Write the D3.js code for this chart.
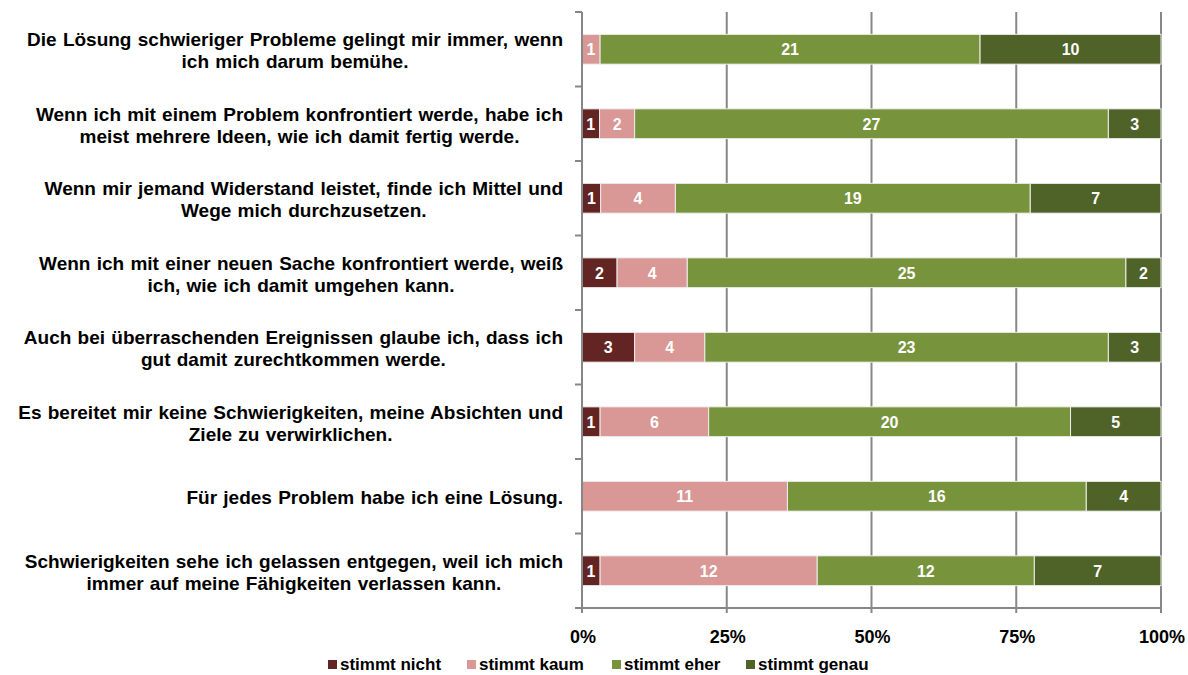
<!DOCTYPE html>
<html>
<head>
<meta charset="utf-8">
<script src="https://cdn.jsdelivr.net/npm/d3@7"></script>
<style>
  body { margin: 0; background: #fff; }
  svg { font-family: "Liberation Sans", Arial, sans-serif; font-weight: bold; }
</style>
</head>
<body>
<div id="chart"></div>
<script>
const statements = [
  ["Die Lösung schwieriger Probleme gelingt mir immer, wenn", "ich mich darum bemühe."],
  ["Wenn ich mit einem Problem konfrontiert werde, habe ich", "meist mehrere Ideen, wie ich damit fertig werde."],
  ["Wenn mir jemand Widerstand leistet, finde ich Mittel und", "Wege mich durchzusetzen."],
  ["Wenn ich mit einer neuen Sache konfrontiert werde, weiß", "ich, wie ich damit umgehen kann."],
  ["Auch bei überraschenden Ereignissen glaube ich, dass ich", "gut damit zurechtkommen werde."],
  ["Es bereitet mir keine Schwierigkeiten, meine Absichten und", "Ziele zu verwirklichen."],
  ["Für jedes Problem habe ich eine Lösung."],
  ["Schwierigkeiten sehe ich gelassen entgegen, weil ich mich", "immer auf meine Fähigkeiten verlassen kann."]
];
const answers = ["stimmt nicht", "stimmt kaum", "stimmt eher", "stimmt genau"];
const stimmtNicht = [0, 1, 1, 2, 3, 1, 0, 1];
const stimmtKaum  = [1, 2, 4, 4, 4, 6, 11, 12];
const stimmtEher  = [21, 27, 19, 25, 23, 20, 16, 12];
const stimmtGenau = [10, 3, 7, 2, 3, 5, 4, 7];
const tickValues = [0, 0.25, 0.5, 0.75, 1];
const colors = ["#632523", "#d99795", "#77933c", "#4f6228"];

const W = 1188, H = 675;
const plotL = 582, plotR = 1161, plotT = 12, plotB = 608;

const svg = d3.select("#chart").append("svg")
  .attr("width", W).attr("height", H);

const rows = statements.map((s, i) => {
  const vals = [stimmtNicht[i], stimmtKaum[i], stimmtEher[i], stimmtGenau[i]];
  const total = d3.sum(vals);
  let acc = 0;
  const segs = vals.map((v, k) => {
    const s0 = acc / total; acc += v;
    return { k: k, v: v, x0: s0, x1: acc / total, row: i };
  });
  return { i: i, lines: s, segs: segs };
});

const x = d3.scaleLinear().domain([0, 1]).range([plotL, plotR]);
const y = d3.scaleBand().domain(d3.range(statements.length)).range([plotT, plotB]).paddingInner(0.6).paddingOuter(0.3);
const yb = d3.scaleBand().domain(d3.range(statements.length)).range([plotT, plotB]);

// gridlines
svg.append("g").selectAll("line").data(tickValues.slice(1)).join("line")
  .attr("x1", d => x(d)).attr("x2", d => x(d))
  .attr("y1", plotT).attr("y2", plotB)
  .attr("stroke", "#878787").attr("stroke-width", 2);

// bars
const g = svg.append("g").selectAll("g").data(rows).join("g");
g.selectAll("rect").data(d => d.segs.filter(s => s.v > 0)).join("rect")
  .attr("x", s => x(s.x0))
  .attr("width", s => x(s.x1) - x(s.x0))
  .attr("y", s => y(s.row))
  .attr("height", y.bandwidth())
  .attr("fill", s => colors[s.k])
  .attr("stroke", "#eeeeee").attr("stroke-width", 1);

g.selectAll("text").data(d => d.segs.filter(s => s.v > 0)).join("text")
  .attr("x", s => (x(s.x0) + x(s.x1)) / 2)
  .attr("y", s => y(s.row) + y.bandwidth() / 2)
  .attr("dy", "0.36em")
  .attr("text-anchor", "middle")
  .attr("fill", "#fff")
  .style("font-size", "16px")
  .text(s => s.v);

// left axis
const axisCol = "#878787";
svg.append("line").attr("x1", plotL).attr("x2", plotL).attr("y1", plotT).attr("y2", plotB + 4)
  .attr("stroke", axisCol).attr("stroke-width", 2);
svg.append("g").selectAll("line").data(d3.range(statements.length + 1)).join("line")
  .attr("x1", plotL - 7).attr("x2", plotL)
  .attr("y1", d => plotT + d * yb.step()).attr("y2", d => plotT + d * yb.step())
  .attr("stroke", axisCol).attr("stroke-width", 2);

// bottom axis
svg.append("line").attr("x1", plotL - 7).attr("x2", plotR).attr("y1", plotB).attr("y2", plotB)
  .attr("stroke", axisCol).attr("stroke-width", 2);
svg.append("g").selectAll("line").data(tickValues).join("line")
  .attr("x1", d => x(d)).attr("x2", d => x(d))
  .attr("y1", plotB).attr("y2", plotB + 5)
  .attr("stroke", axisCol).attr("stroke-width", 2);
svg.append("g").selectAll("text").data(tickValues).join("text")
  .attr("x", d => x(d) + 1).attr("y", 643)
  .attr("text-anchor", "middle")
  .style("font-size", "18px")
  .text(d => d3.format(".0%")(d));

// category labels: centered block, right aligned at 563
const lineH = 22;
const lab = svg.append("g").selectAll("g").data(rows).join("g");
lab.each(function(d) {
  const el = d3.select(this);
  const cy = yb(d.i) + yb.bandwidth() / 2 + 1;
  const t = el.selectAll("text").data(d.lines).join("text")
    .attr("y", (l, j) => cy + (j - (d.lines.length - 1) / 2) * lineH)
    .attr("dy", "0.36em")
    .attr("text-anchor", "middle")
    .style("font-size", "19px")
    .style("word-spacing", "1px")
    .text(l => l);
  let w = 0;
  t.each(function() { w = Math.max(w, this.getComputedTextLength()); });
  t.attr("x", 563 - w / 2);
});

// legend
const legX = [328, 467, 612, 746];
const leg = svg.append("g").selectAll("g").data(answers).join("g")
  .attr("transform", (d, i) => `translate(${legX[i]},660)`);
leg.append("rect").attr("width", 9).attr("height", 9)
  .attr("fill", (d, i) => colors[i]);
leg.append("text").attr("x", 12).attr("y", 10)
  .style("font-size", "17px")
  .text(d => d);
</script>
</body>
</html>
